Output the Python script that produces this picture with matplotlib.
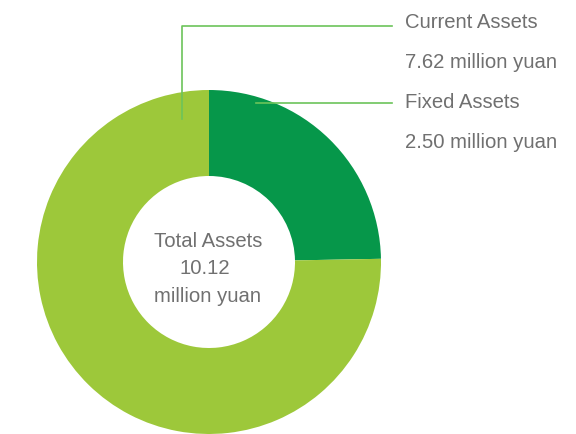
import matplotlib
matplotlib.use("Agg")
import matplotlib.pyplot as plt

categories = ["Fixed Assets", "Current Assets"]
values = [2.50, 7.62]
total = 10.12
unit = "million yuan"

colors = ["#06974a", "#9dc83a"]
line_color = "#6cc45a"
text_color = "#707070"
font = "Liberation Sans"

W, H = 576, 435
fig = plt.figure(figsize=(W / 100, H / 100), dpi=100)
ax = fig.add_axes([0, 0, 1, 1])

cx, cy, r = 209, H - 263, 172
ax.pie(values, colors=colors, startangle=90, counterclock=False,
       center=(cx, cy), radius=r, frame=True,
       wedgeprops=dict(width=r * 0.5, linewidth=0))
ax.set_xlim(0, W)
ax.set_ylim(0, H)
ax.set_aspect("equal")
ax.axis("off")

def py(y):
    return H - y

# leader lines
ax.plot([182, 182, 392], [py(120), py(27), py(27)], color=line_color, lw=1.2)
ax.plot([256, 392], [py(104), py(104)], color=line_color, lw=1.2)

fs = 14.6
kw = dict(fontsize=fs, color=text_color, family=font, va="center")
ax.text(405, py(22), categories[1], ha="left", **kw)
ax.text(405, py(63), f"{values[1]:.2f} {unit}", ha="left", **kw)
ax.text(405, py(102), categories[0], ha="left", **kw)
ax.text(405, py(142), f"{values[0]:.2f} {unit}", ha="left", **kw)

ax.text(208, py(242), "Total Assets", ha="center", **kw)
ax.text(205, py(269), f"{total:.2f}", ha="center", **kw)
ax.text(208, py(296), unit, ha="center", **kw)

fig.savefig("out.png", dpi=100)
